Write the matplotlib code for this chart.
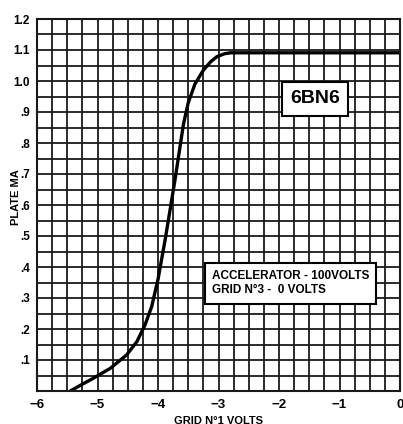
import matplotlib.pyplot as plt
from matplotlib.ticker import MultipleLocator

# curva 6BN6: corrente de placa x tensao de grade 1
grid_volts = [-5.45, -5.25, -5.07, -4.79, -4.52, -4.35, -4.215, -4.105, -4.0,
              -3.88, -3.72, -3.65, -3.58, -3.50, -3.39, -3.25, -3.13, -3.03,
              -2.9, -2.8, 0.0]
plate_ma = [0.0, 0.022, 0.041, 0.073, 0.116, 0.159, 0.213, 0.272, 0.36,
            0.49, 0.68, 0.77, 0.86, 0.93, 0.99, 1.035, 1.062, 1.078,
            1.088, 1.091, 1.091]

x_ticks = [-6, -5, -4, -3, -2, -1, 0]
x_labels = ['−6', '−5', '−4', '−3', '−2', '−1', '0']
y_ticks = [0.1, 0.2, 0.3, 0.4, 0.5, 0.6, 0.7, 0.8, 0.9, 1.0, 1.1, 1.2]
y_labels = ['.1', '.2', '.3', '.4', '.5', '.6', '.7', '.8', '.9', '1.0', '1.1', '1.2']

plt.rcParams['font.family'] = ['Liberation Sans', 'DejaVu Sans']

fig = plt.figure(figsize=(4.03, 4.24), dpi=100)
ax = fig.add_axes([37/403, 1 - 391/424, 363/403, 372/424])

ax.set_xlim(-6, 0)
ax.set_ylim(0, 1.2)
ax.xaxis.set_minor_locator(MultipleLocator(0.25))
ax.yaxis.set_minor_locator(MultipleLocator(0.05))
ax.set_xticks(x_ticks)
ax.set_xticklabels(x_labels, fontsize=9.5, fontweight='bold')
ax.set_yticks(y_ticks)
ax.set_yticklabels(y_labels, fontsize=8.5, fontweight='bold')
ax.grid(which='both', color='#1a1a1a', lw=1.3)
ax.set_axisbelow(True)
ax.tick_params(which='both', length=0)
ax.tick_params(axis='x', pad=6)
ax.tick_params(axis='y', pad=5)
for s in ax.spines.values():
    s.set_color('#1a1a1a')
    s.set_linewidth(1.5)

ax.plot(grid_volts, plate_ma, color='black', lw=2.4, solid_capstyle='round')

ax.text(-1.405, 0.942, '6BN6', fontsize=14, fontweight='bold',
        ha='center', va='center',
        bbox=dict(boxstyle='square,pad=0.42', fc='white', ec='black', lw=1.5))
ax.text(-3.11, 0.348, 'ACCELERATOR - 100VOLTS\nGRID N°3 -  0 VOLTS', fontsize=8.5,
        fontweight='bold', ha='left', va='center', linespacing=1.3,
        bbox=dict(boxstyle='square,pad=0.6', fc='white', ec='black', lw=1.5))

ax.set_xlabel('GRID N°1 VOLTS', fontsize=8, fontweight='bold', labelpad=3)
ax.set_ylabel('PLATE MA', fontsize=8, fontweight='bold')
ax.yaxis.set_label_coords(-0.045, 0.52)

fig.savefig('out.png', dpi=100)
